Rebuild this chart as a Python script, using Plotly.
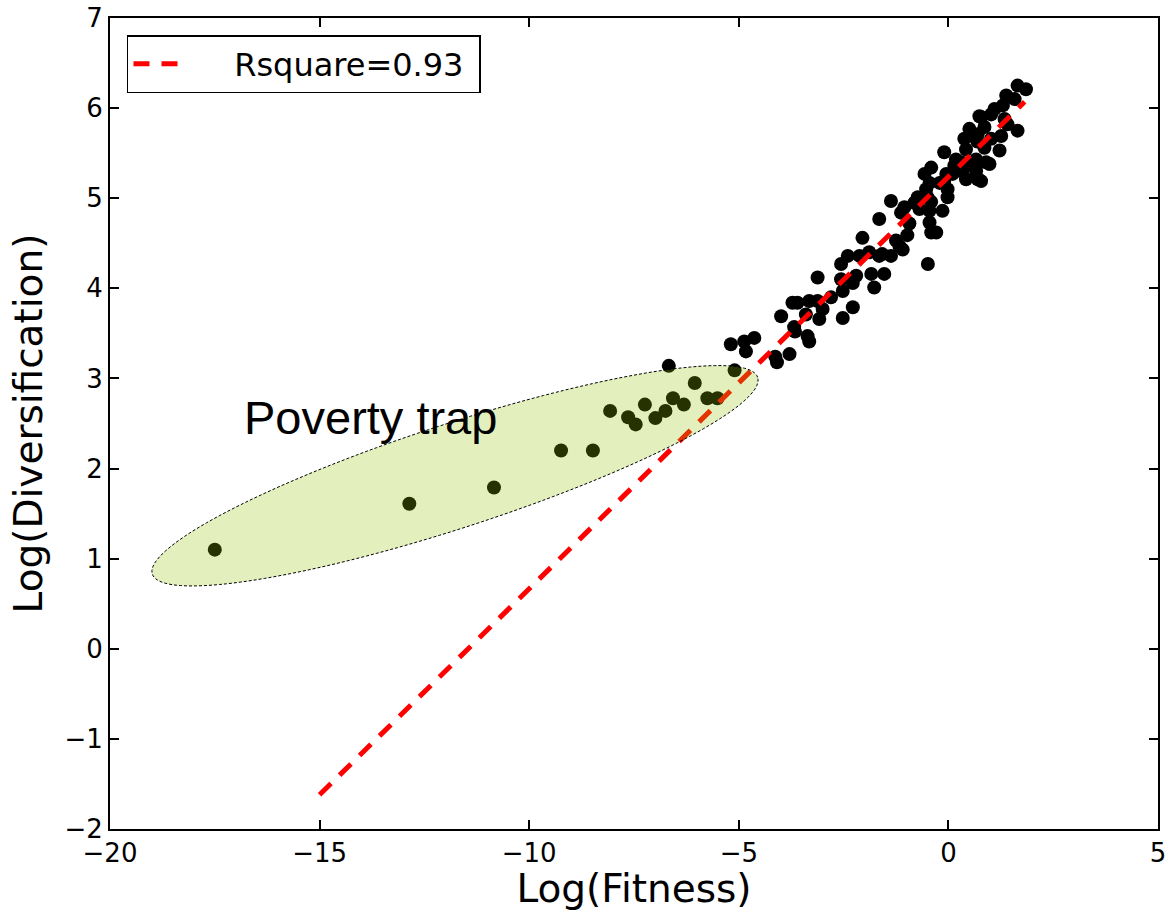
import numpy as np
import plotly.graph_objects as go

# ---------------- data ----------------
# countries inside the "poverty trap" region
trap_x = [-17.50, -12.86, -10.84, -9.24, -8.48, -8.07, -7.64, -7.46, -7.24, -6.99,
          -6.75, -6.67, -6.57, -6.31, -6.05, -5.75, -5.51, -5.10]
trap_y = [1.10, 1.61, 1.79, 2.20, 2.20, 2.64, 2.57, 2.49, 2.71, 2.56,
          2.64, 3.14, 2.78, 2.71, 2.95, 2.78, 2.78, 3.09]

# remaining countries
main_x = [-5.19, -4.87, -4.63, -4.83, -4.13, -4.09, -3.79, -3.99, -3.72, -3.60,
          -3.68, -3.66, -3.36, -3.32, -3.40, -3.32, -3.12, -3.12, -3.08, -3.00,
          -2.80, -2.56, -2.52, -2.52, -2.28, -2.56, -2.40, -2.28, -2.20, -2.05,
          -2.12, -1.89, -1.65, -1.58, -1.84, -1.77, -1.53, -1.37, -1.25, -1.17,
          -1.09, -1.65, -1.37, -1.13, -1.05, -0.93, -0.98, -0.81, -0.73, -0.69,
          -0.45, -0.41, -0.29, -0.49, -0.45, -0.53, -0.45, -0.57, -0.41, -0.14,
          -0.21, -0.02, -0.02, -0.05, 0.10, -0.50, -0.10, 0.14, 0.30, 0.42,
          0.70, 0.42, 0.66, 0.38, 0.50, 0.42, 0.58, 0.69, 0.74, 0.86,
          0.90, 0.86, 1.65, 1.85, 1.38, 1.58, 1.30, 1.10, 0.78, 1.02,
          1.34, 1.65, 1.26, 1.22, 0.98, 0.70, 0.66, 0.66, 0.78, 1.02,
          1.41, -0.41, -0.10, 0.18, 0.21, 0.33]
main_y = [3.38, 3.41, 3.45, 3.30, 3.24, 3.18, 3.27, 3.69, 3.84, 3.84,
          3.57, 3.52, 3.47, 3.41, 3.71, 3.86, 3.86, 4.12, 3.66, 3.77,
          3.90, 4.10, 3.97, 3.67, 3.79, 4.27, 4.36, 4.06, 4.14, 4.56,
          4.36, 4.40, 4.36, 4.38, 4.16, 4.01, 4.16, 4.36, 4.53, 4.47,
          4.43, 4.77, 4.97, 4.84, 4.90, 4.72, 4.59, 4.95, 5.01, 4.88,
          4.73, 4.62, 4.62, 4.27, 4.86, 5.10, 5.17, 5.27, 5.34, 4.86,
          5.17, 5.10, 5.01, 5.27, 5.27, 5.01, 5.51, 5.36, 5.40, 5.21,
          5.21, 5.36, 5.36, 5.66, 5.77, 5.54, 5.69, 5.63, 5.91, 5.79,
          5.40, 5.56, 6.25, 6.21, 6.14, 6.10, 6.03, 5.99, 5.90, 5.93,
          5.88, 5.75, 5.69, 5.53, 5.38, 5.71, 5.43, 5.30, 5.19, 5.66,
          5.82, 4.96, 5.19, 5.43, 5.34, 5.30]

# regression line end points
fit_x = [-15.0, 1.82]
fit_y = [-1.62, 6.07]
fit_label = "Rsquare=0.93"

x_ticks = [-20, -15, -10, -5, 0, 5]
y_ticks = [-2, -1, 0, 1, 2, 3, 4, 5, 6, 7]

# poverty-trap ellipse (centre and half-axis vectors, data units)
ell_center = (-11.77, 1.92)
ell_major = (7.22, 1.092)
ell_minor = (-0.384, 0.55)

# ---------------- figure ----------------
fig = go.Figure()

fig.add_trace(go.Scatter(
    x=trap_x + main_x, y=trap_y + main_y, mode="markers",
    marker=dict(size=14, color="black", line=dict(width=0)),
    showlegend=False, hoverinfo="x+y"))

fig.add_trace(go.Scatter(
    x=fit_x, y=fit_y, mode="lines", name="\u00a0" * 4 + fit_label + "\u00a0",
    line=dict(color="red", width=5, dash="16px,12px")))

t = np.linspace(0, 2 * np.pi, 181)
ex = ell_center[0] + ell_major[0] * np.cos(t) + ell_minor[0] * np.sin(t)
ey = ell_center[1] + ell_major[1] * np.cos(t) + ell_minor[1] * np.sin(t)
path = "M " + " L ".join(f"{a:.4f},{b:.4f}" for a, b in zip(ex, ey)) + " Z"
fig.add_shape(type="path", path=path, xref="x", yref="y", layer="above",
              fillcolor="rgba(146,196,0,0.26)",
              line=dict(color="black", width=1, dash="3px,2px"))

fig.add_annotation(x=-16.85, y=2.57, xref="x", yref="y", text="Poverty trap",
                   showarrow=False, xanchor="left", yanchor="middle",
                   font=dict(family="Liberation Sans, Arial", size=47, color="black"))

axis_common = dict(
    showline=True, linecolor="black", linewidth=2, mirror="ticks",
    ticks="inside", ticklen=9, tickwidth=1.5, tickcolor="black",
    showgrid=False, zeroline=False,
    tickfont=dict(family="DejaVu Sans", size=26, color="black"),
)

fig.update_xaxes(range=[-20, 5], tickvals=x_ticks, **axis_common,
                 title=dict(text="Log(Fitness)", standoff=4,
                            font=dict(family="DejaVu Sans", size=39, color="black")))
fig.update_yaxes(range=[-2, 7], tickvals=y_ticks, **axis_common,
                 title=dict(text="Log(Diversification)", standoff=10,
                            font=dict(family="DejaVu Sans", size=39, color="black")))

fig.update_layout(
    width=1169, height=911,
    margin=dict(l=110, r=11, t=18, b=82, autoexpand=False),
    plot_bgcolor="white", paper_bgcolor="white",
    font=dict(family="DejaVu Sans", color="black"),
    legend=dict(x=0.0162, y=0.979, xanchor="left", yanchor="top",
                bgcolor="white", bordercolor="black", borderwidth=1.5,
                itemwidth=55,
                font=dict(family="DejaVu Sans", size=32, color="black")),
)

fig.write_html("out.html")
